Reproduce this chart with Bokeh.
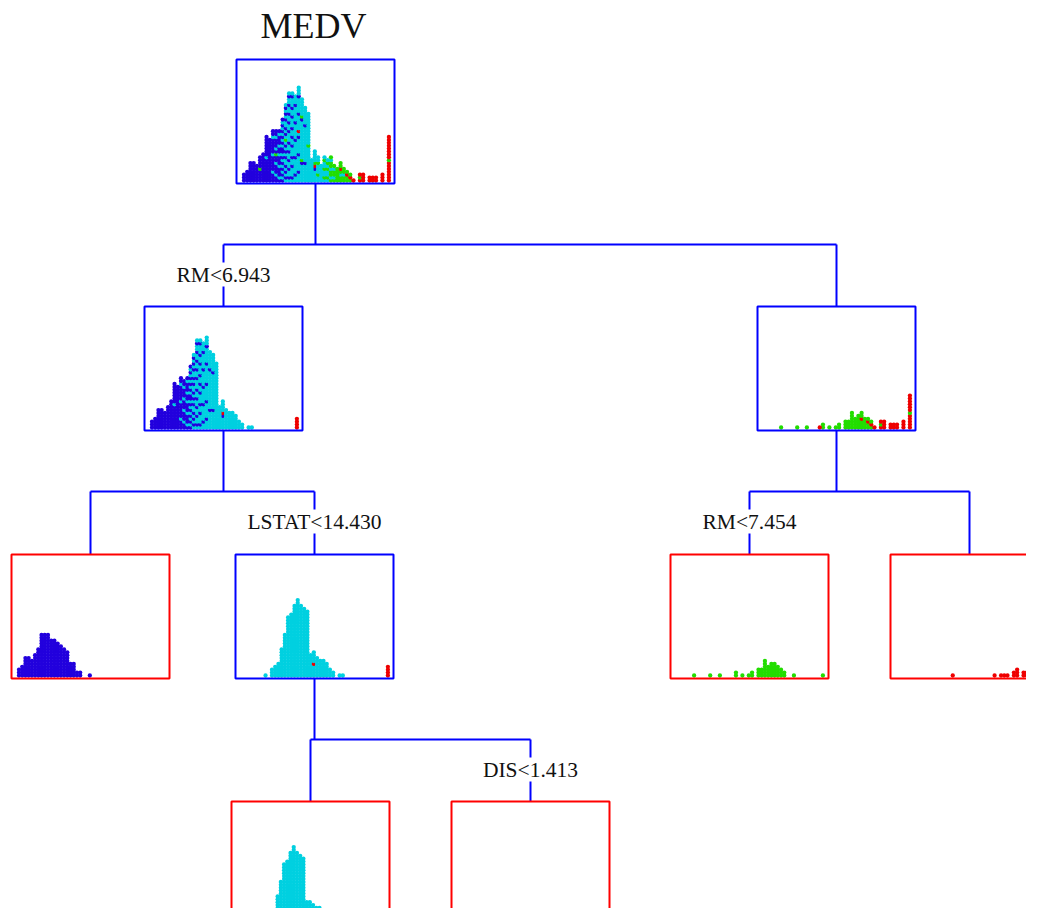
from bokeh.plotting import figure
from bokeh.models import Range1d
from bokeh.embed import file_html
from bokeh.resources import INLINE
from bokeh.core.properties import value

# ---------------- data: MEDV column (value, $1000s) and dot counts per leaf ----------------
leafA_medv = [5, 6, 7, 8, 9, 10, 11, 12, 13, 14, 15, 16, 17, 18, 19, 20, 21, 22, 23, 24, 27]
leafA_count = [3, 4, 7, 7, 6, 8, 10, 15, 15, 15, 13, 13, 12, 11, 10, 9, 5, 5, 2, 2, 1]

leafE_medv = [12, 14, 15, 16, 17, 18, 19, 20, 21, 22, 23, 24, 25, 26, 27, 28, 29, 30, 31, 32, 33, 35, 36]
leafE_count = [1, 3, 4, 5, 10, 15, 21, 22, 25, 27, 25, 24, 23, 8, 8, 7, 6, 6, 5, 3, 2, 1, 1]

leafF_medv = [27, 50]
leafF_count = [1, 4]

leafC_medv = [10, 15, 18, 23, 25, 27, 28, 30, 31, 32, 33, 34, 35, 36, 37, 38, 41, 50]
leafC_count = [1, 1, 1, 2, 1, 1, 2, 3, 3, 6, 4, 5, 5, 4, 3, 2, 1, 1]

leafD_medv = [22, 35, 37, 38, 39, 41, 42, 44, 45, 46, 48, 50]
leafD_count = [1, 1, 1, 1, 1, 2, 3, 2, 2, 2, 3, 11]

split_labels = ["RM<6.943", "LSTAT<14.430", "RM<7.454", "DIS<1.413"]
title_text = "MEDV"
medv_min, medv_max = 5, 50

# ---------------- styling / layout ----------------
leaf_color = {"A": "#2200dd", "E": "#00d0e0", "F": "#ee0000", "C": "#22dd00", "D": "#ee0000"}
leaf_data = {"A": (leafA_medv, leafA_count), "E": (leafE_medv, leafE_count),
             "F": (leafF_medv, leafF_count), "C": (leafC_medv, leafC_count),
             "D": (leafD_medv, leafD_count)}

BOX_W, BOX_H = 158, 124
PAD_L, SPAN = 7.5, 144.9      # inner x scale of each mini-histogram
STEP = 2.9                    # vertical step of stacked dots
box_pos = {"root": (236, 59), "L": (144, 306), "R": (757, 306),
           "A": (11, 554), "B": (235, 554), "C": (670, 554), "D": (890, 554),
           "E": (231, 801), "F": (451, 801)}
members = {"root": ["A", "E", "F", "C", "D"], "L": ["A", "E", "F"], "R": ["C", "D"],
           "B": ["E", "F"], "A": ["A"], "C": ["C"], "D": ["D"], "E": ["E"], "F": ["F"]}
children = {"root": ("L", "R"), "L": ("A", "B"), "R": ("C", "D"), "B": ("E", "F")}
label_anchor = {"root": "L", "L": "B", "R": "C", "B": "F"}
split_of = {"root": 0, "L": 1, "R": 2, "B": 3}
is_leaf = {k: k not in children for k in box_pos}

W, H = 1026, 908
p = figure(width=W, height=H, x_range=Range1d(0, W), y_range=Range1d(H, 0),
           output_backend="svg", toolbar_location=None, min_border=0,
           x_axis_location=None, y_axis_location=None)
p.grid.visible = False
p.outline_line_color = None


def cx(n):
    return box_pos[n][0] + BOX_W / 2


# ---------------- dots ----------------
for node, (bx, by) in box_pos.items():
    cols = {}
    for order, leaf in enumerate(members[node]):
        ms, cs = leaf_data[leaf]
        for m, c in zip(ms, cs):
            cols.setdefault(m, []).append((order, leaf, c))
    xs, ys, colors = [], [], []
    bottom = by + BOX_H
    for m, items in cols.items():
        entries = []
        for order, leaf, c in items:
            for i in range(c):
                entries.append(((i + 0.5) / c, order, leaf))
        entries.sort()
        x = bx + PAD_L + (m - medv_min) / (medv_max - medv_min) * SPAN
        for lvl, (_, _, leaf) in enumerate(entries):
            xs.append(x)
            ys.append(bottom - 3 - lvl * STEP)
            colors.append(leaf_color[leaf])
    p.scatter(xs, ys, size=4.3, fill_color=colors, line_color=None)

# ---------------- connectors ----------------
lx, ly = [], []
for parent, (c1, c2) in children.items():
    px_, pb = cx(parent), box_pos[parent][1] + BOX_H
    jy = pb + 61
    lx.append([px_, px_]); ly.append([pb, jy])
    lx.append([cx(c1), cx(c2)]); ly.append([jy, jy])
    for c in (c1, c2):
        lx.append([cx(c), cx(c)]); ly.append([jy, box_pos[c][1]])
p.multi_line(lx, ly, line_color="#0000ff", line_width=2)

# ---------------- boxes ----------------
for node, (bx, by) in box_pos.items():
    col = "#ff0000" if is_leaf[node] else "#0000ff"
    p.quad(left=[bx], right=[bx + BOX_W], top=[by], bottom=[by + BOX_H],
           fill_color=None, line_color=col, line_width=2)

# ---------------- split labels ----------------
tx, ty, tt = [], [], []
for parent, anchor in label_anchor.items():
    jy = box_pos[parent][1] + BOX_H + 61
    tx.append(cx(anchor)); ty.append(jy + 30); tt.append(split_labels[split_of[parent]])
p.text(tx, ty, text=tt, text_font=value("Liberation Serif"), text_font_size="21.5px",
       text_align="center", text_baseline="alphabetic", text_color="#111111",
       background_fill_color="white")

p.text([cx("root") - 2], [25], text=[title_text], text_font=value("Liberation Serif"),
       text_font_size="36px", text_align="center", text_baseline="alphabetic",
       text_color="#111111")

open("out.html", "w").write(file_html(p, INLINE))
